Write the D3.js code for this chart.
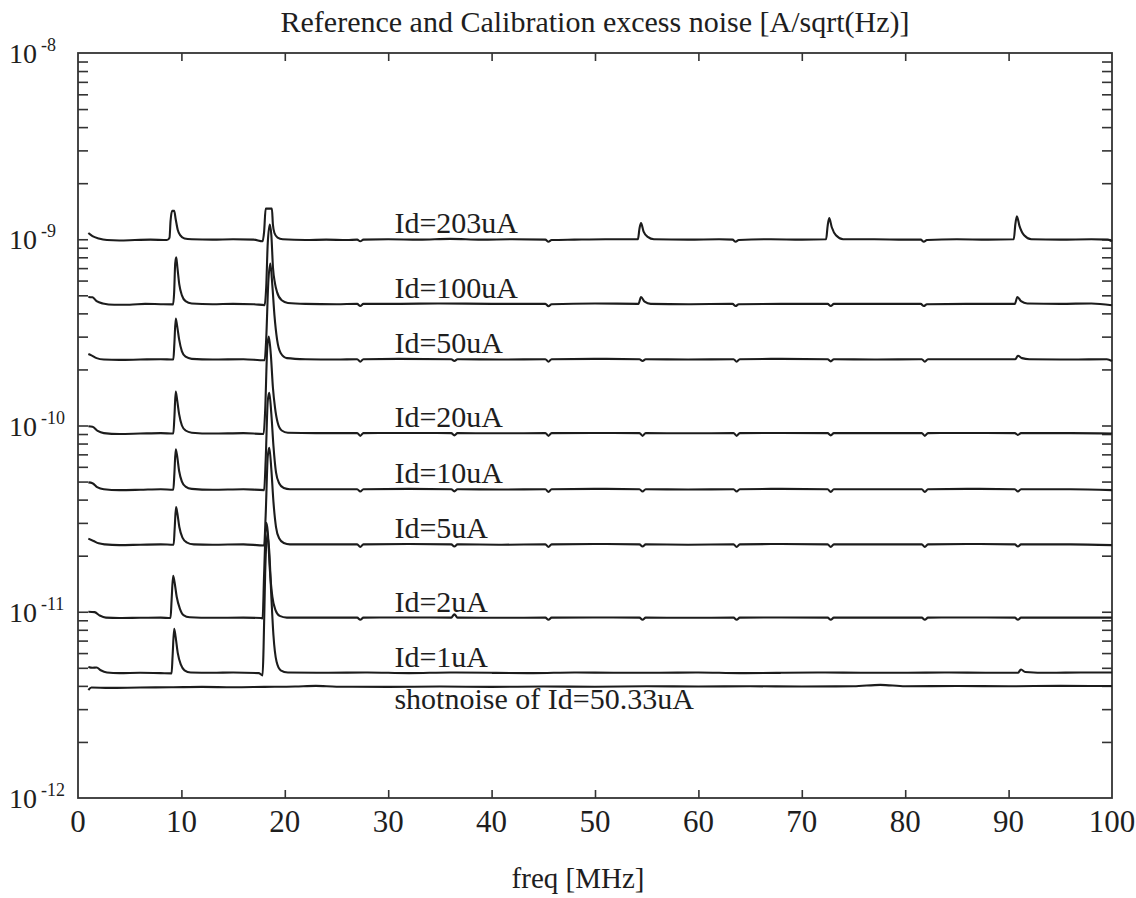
<!DOCTYPE html>
<html>
<head>
<meta charset="utf-8">
<script src="https://cdn.jsdelivr.net/npm/d3@7"></script>
<style>
body { margin: 0; background: #fff; }
text { font-family: "Liberation Serif", "Times New Roman", serif; fill: #1e1e1e; }
</style>
</head>
<body>
<div id="chart"></div>
<script>
// x axis ticks [MHz] and y axis decades (exponents)
var xTickValues = [0, 10, 20, 30, 40, 50, 60, 70, 80, 90, 100];
var yDecades = [-8, -9, -10, -11, -12];

// curve labels and the noise floor each one sits on
var seriesNames = ["Id=203uA", "Id=100uA", "Id=50uA", "Id=20uA", "Id=10uA", "Id=5uA", "Id=2uA", "Id=1uA", "shotnoise of Id=50.33uA"];
var seriesLevels = [1.0e-9, 4.5e-10, 2.27e-10, 9.1e-11, 4.55e-11, 2.3e-11, 9.3e-12, 4.7e-12, 3.95e-12];

// spectra: [freq MHz, A/sqrt(Hz)]
var id203 = [[1.0,1.08e-9],[1.4,1.04e-9],[2.0,1.01e-9],[2.8,0.99e-9],[4,0.985e-9],[5.5,0.99e-9],[7,0.995e-9],[8.6,0.99e-9],[8.85,1.02e-9],[8.95,1.25e-9],[9.1,1.42e-9],[9.3,1.42e-9],[9.45,1.28e-9],[9.65,1.12e-9],[9.9,1.05e-9],[10.3,1.01e-9],[11,1.0e-9],[13,0.995e-9],[15,1.0e-9],[17,0.995e-9],[17.85,0.975e-9],[18.0,1.1e-9],[18.15,1.46e-9],[18.75,1.46e-9],[18.85,1.2e-9],[19.0,1.08e-9],[19.3,1.02e-9],[19.8,1.0e-9],[22,0.99e-9],[24,0.995e-9],[26,0.99e-9],[27.0,0.995e-9],[27.3,0.975e-9],[27.6,0.995e-9],[30,1.0e-9],[33,0.995e-9],[36,1.005e-9],[39,0.995e-9],[42,1.0e-9],[45.2,0.995e-9],[45.5,0.97e-9],[45.8,0.99e-9],[48,0.995e-9],[51,1.0e-9],[54.15,1.0e-9],[54.3,1.14e-9],[54.45,1.22e-9],[54.7,1.1e-9],[55.1,1.03e-9],[55.7,1.0e-9],[59,0.995e-9],[62,1.0e-9],[63.3,0.995e-9],[63.6,0.97e-9],[63.9,0.99e-9],[67,1.0e-9],[70,0.995e-9],[72.35,1.0e-9],[72.5,1.18e-9],[72.65,1.3e-9],[72.9,1.16e-9],[73.3,1.05e-9],[74,1.0e-9],[77,1.0e-9],[80,0.995e-9],[81.5,0.995e-9],[81.8,0.97e-9],[82.1,0.99e-9],[85,1.0e-9],[88,0.995e-9],[90.5,1.0e-9],[90.65,1.2e-9],[90.8,1.33e-9],[91.05,1.18e-9],[91.5,1.05e-9],[92.2,1.0e-9],[95,0.995e-9],[98,1.0e-9],[99.6,0.995e-9],[100,0.975e-9]];

var id100 = [[1.0,4.9e-10],[1.4,4.88e-10],[1.8,4.65e-10],[2.4,4.52e-10],[3.5,4.45e-10],[5,4.45e-10],[6.5,4.5e-10],[8,4.48e-10],[9.2,4.47e-10],[9.3,5.2e-10],[9.4,7.4e-10],[9.5,8.0e-10],[9.62,7.0e-10],[9.8,5.7e-10],[10.05,5.0e-10],[10.4,4.65e-10],[11,4.52e-10],[13,4.48e-10],[15,4.5e-10],[17,4.48e-10],[18.05,4.43e-10],[18.2,5.5e-10],[18.35,9.5e-10],[18.55,1.2e-9],[18.7,1.05e-9],[18.86,7.0e-10],[19.05,5.8e-10],[19.25,5.2e-10],[19.7,4.7e-10],[20.3,4.55e-10],[22,4.5e-10],[25,4.48e-10],[27.0,4.5e-10],[27.3,4.38e-10],[27.6,4.5e-10],[31,4.5e-10],[35,4.52e-10],[40,4.5e-10],[45.2,4.5e-10],[45.5,4.37e-10],[45.8,4.48e-10],[50,4.52e-10],[54.2,4.5e-10],[54.45,4.9e-10],[54.8,4.62e-10],[55.4,4.5e-10],[59,4.48e-10],[63.3,4.5e-10],[63.6,4.38e-10],[63.9,4.48e-10],[68,4.5e-10],[72.5,4.5e-10],[72.8,4.38e-10],[73.1,4.5e-10],[77,4.5e-10],[81.5,4.5e-10],[81.8,4.38e-10],[82.1,4.48e-10],[86,4.5e-10],[90.6,4.5e-10],[90.85,4.9e-10],[91.2,4.65e-10],[91.8,4.52e-10],[95,4.5e-10],[98,4.52e-10],[100,4.42e-10]];

var id50 = [[1.0,2.42e-10],[1.3,2.38e-10],[1.8,2.3e-10],[2.5,2.26e-10],[4,2.25e-10],[6,2.26e-10],[8,2.27e-10],[9.22,2.26e-10],[9.32,2.75e-10],[9.45,3.75e-10],[9.58,3.45e-10],[9.78,2.9e-10],[10.05,2.5e-10],[10.4,2.34e-10],[11,2.28e-10],[13,2.26e-10],[16,2.27e-10],[18.05,2.24e-10],[18.2,2.9e-10],[18.4,5.8e-10],[18.6,7.4e-10],[18.8,5.6e-10],[19.0,3.9e-10],[19.25,2.9e-10],[19.6,2.45e-10],[20.2,2.3e-10],[22,2.27e-10],[25,2.26e-10],[27.0,2.27e-10],[27.3,2.2e-10],[27.6,2.27e-10],[31,2.28e-10],[36.1,2.27e-10],[36.4,2.22e-10],[36.7,2.27e-10],[41,2.26e-10],[45.2,2.27e-10],[45.5,2.2e-10],[45.8,2.27e-10],[50,2.28e-10],[54.3,2.27e-10],[54.6,2.22e-10],[54.9,2.27e-10],[59,2.26e-10],[63.4,2.27e-10],[63.7,2.2e-10],[64,2.27e-10],[68,2.28e-10],[72.5,2.27e-10],[72.8,2.21e-10],[73.1,2.27e-10],[77,2.26e-10],[81.6,2.27e-10],[81.9,2.2e-10],[82.2,2.27e-10],[86,2.27e-10],[90.65,2.27e-10],[90.9,2.37e-10],[91.3,2.3e-10],[92,2.27e-10],[96,2.26e-10],[99.5,2.27e-10],[100,2.22e-10]];

var id20 = [[1.0,9.9e-11],[1.4,9.85e-11],[1.9,9.35e-11],[2.5,9.1e-11],[4,9.0e-11],[6,9.05e-11],[8,9.1e-11],[9.22,9.05e-11],[9.32,1.1e-10],[9.45,1.52e-10],[9.58,1.38e-10],[9.78,1.15e-10],[10.05,1.0e-10],[10.4,9.4e-11],[11,9.15e-11],[13,9.05e-11],[16,9.1e-11],[17.95,9.0e-11],[18.1,1.2e-10],[18.3,2.6e-10],[18.45,3.0e-10],[18.65,2.4e-10],[18.85,1.6e-10],[19.05,1.25e-10],[19.3,1.04e-10],[19.7,9.4e-11],[20.3,9.15e-11],[23,9.1e-11],[27.0,9.1e-11],[27.3,8.8e-11],[27.6,9.1e-11],[32,9.12e-11],[36.1,9.1e-11],[36.4,8.85e-11],[36.7,9.1e-11],[41,9.08e-11],[45.2,9.1e-11],[45.5,8.8e-11],[45.8,9.1e-11],[50,9.12e-11],[54.3,9.1e-11],[54.6,8.8e-11],[54.9,9.1e-11],[59,9.08e-11],[63.4,9.1e-11],[63.7,8.8e-11],[64,9.1e-11],[68,9.12e-11],[72.5,9.1e-11],[72.8,8.85e-11],[73.1,9.1e-11],[77,9.1e-11],[81.6,9.1e-11],[81.9,8.8e-11],[82.2,9.1e-11],[86,9.12e-11],[90.6,9.1e-11],[90.9,8.9e-11],[91.2,9.1e-11],[96,9.1e-11],[100,9.05e-11]];

var id10 = [[1.0,4.95e-11],[1.4,4.9e-11],[1.9,4.65e-11],[2.5,4.55e-11],[4,4.5e-11],[6,4.52e-11],[8,4.55e-11],[9.22,4.52e-11],[9.32,5.5e-11],[9.45,7.45e-11],[9.58,6.9e-11],[9.78,5.7e-11],[10.05,5.0e-11],[10.4,4.7e-11],[11,4.57e-11],[13,4.52e-11],[16,4.55e-11],[18.0,4.5e-11],[18.15,6.5e-11],[18.35,1.35e-10],[18.5,1.5e-10],[18.7,1.15e-10],[18.9,7.8e-11],[19.15,5.6e-11],[19.45,4.9e-11],[19.9,4.62e-11],[20.5,4.55e-11],[27.0,4.55e-11],[27.3,4.42e-11],[27.6,4.55e-11],[32,4.57e-11],[36.1,4.55e-11],[36.4,4.43e-11],[36.7,4.55e-11],[41,4.53e-11],[45.2,4.55e-11],[45.5,4.4e-11],[45.8,4.55e-11],[50,4.57e-11],[54.3,4.55e-11],[54.6,4.42e-11],[54.9,4.55e-11],[59,4.53e-11],[63.4,4.55e-11],[63.7,4.42e-11],[64,4.55e-11],[68,4.57e-11],[72.5,4.55e-11],[72.8,4.4e-11],[73.1,4.55e-11],[77,4.55e-11],[81.6,4.55e-11],[81.9,4.4e-11],[82.2,4.55e-11],[86,4.57e-11],[90.6,4.55e-11],[90.9,4.42e-11],[91.2,4.55e-11],[96,4.55e-11],[100,4.5e-11]];

var id5 = [[1.0,2.47e-11],[1.5,2.4e-11],[2.0,2.33e-11],[2.6,2.3e-11],[4,2.28e-11],[6,2.29e-11],[8,2.3e-11],[9.25,2.29e-11],[9.35,2.8e-11],[9.48,3.65e-11],[9.6,3.4e-11],[9.8,2.85e-11],[10.1,2.5e-11],[10.5,2.36e-11],[11.2,2.3e-11],[13,2.29e-11],[16,2.3e-11],[18.0,2.27e-11],[18.15,3.3e-11],[18.35,6.8e-11],[18.5,7.6e-11],[18.7,5.8e-11],[18.9,3.9e-11],[19.15,2.85e-11],[19.45,2.48e-11],[19.9,2.34e-11],[20.5,2.3e-11],[27.0,2.3e-11],[27.3,2.23e-11],[27.6,2.3e-11],[32,2.31e-11],[36.1,2.3e-11],[36.4,2.24e-11],[36.7,2.3e-11],[41,2.29e-11],[45.2,2.3e-11],[45.5,2.23e-11],[45.8,2.3e-11],[50,2.31e-11],[54.3,2.3e-11],[54.6,2.24e-11],[54.9,2.3e-11],[59,2.29e-11],[63.4,2.3e-11],[63.7,2.23e-11],[64,2.3e-11],[68,2.31e-11],[72.5,2.3e-11],[72.8,2.23e-11],[73.1,2.3e-11],[77,2.3e-11],[81.6,2.3e-11],[81.9,2.23e-11],[82.2,2.3e-11],[86,2.31e-11],[90.6,2.3e-11],[90.9,2.24e-11],[91.2,2.3e-11],[96,2.3e-11],[100,2.28e-11]];

var id2 = [[1.0,1.0e-11],[1.6,9.95e-12],[2.1,9.55e-12],[2.7,9.3e-12],[4,9.25e-12],[6,9.28e-12],[8,9.3e-12],[8.95,9.25e-12],[9.05,1.15e-11],[9.2,1.56e-11],[9.33,1.45e-11],[9.55,1.2e-11],[9.85,1.04e-11],[10.2,9.6e-12],[10.8,9.35e-12],[13,9.28e-12],[16,9.3e-12],[17.7,9.25e-12],[17.85,9.2e-12],[18.0,1.6e-11],[18.2,3.0e-11],[18.35,2.7e-11],[18.55,1.7e-11],[18.8,1.2e-11],[19.1,1.02e-11],[19.5,9.5e-12],[20.2,9.3e-12],[23,9.3e-12],[27.0,9.3e-12],[27.3,9.05e-12],[27.6,9.3e-12],[32,9.32e-12],[36.1,9.3e-12],[36.4,9.7e-12],[36.7,9.3e-12],[41,9.28e-12],[45.2,9.3e-12],[45.5,9.05e-12],[45.8,9.3e-12],[50,9.32e-12],[54.3,9.3e-12],[54.6,9.05e-12],[54.9,9.3e-12],[59,9.28e-12],[63.4,9.3e-12],[63.7,9.05e-12],[64,9.3e-12],[68,9.32e-12],[72.5,9.3e-12],[72.8,9.05e-12],[73.1,9.3e-12],[77,9.3e-12],[81.6,9.3e-12],[81.9,9.05e-12],[82.2,9.3e-12],[86,9.32e-12],[90.6,9.3e-12],[90.9,9.05e-12],[91.2,9.3e-12],[96,9.3e-12],[100,9.3e-12]];

var id1 = [[1.0,5.05e-12],[1.4,5.0e-12],[1.8,5.02e-12],[2.2,4.85e-12],[2.8,4.72e-12],[4,4.68e-12],[6,4.7e-12],[8,4.68e-12],[9.05,4.67e-12],[9.15,5.8e-12],[9.3,8.1e-12],[9.43,7.4e-12],[9.65,6.0e-12],[9.95,5.2e-12],[10.3,4.85e-12],[10.9,4.72e-12],[13,4.7e-12],[15,4.72e-12],[17.5,4.68e-12],[17.85,4.55e-12],[17.95,6.5e-12],[18.1,1.6e-11],[18.3,2.6e-11],[18.5,2.1e-11],[18.7,1.2e-11],[18.9,7.5e-12],[19.2,5.4e-12],[19.6,4.85e-12],[20.3,4.72e-12],[24,4.7e-12],[28,4.72e-12],[32,4.68e-12],[36,4.72e-12],[40,4.7e-12],[44,4.68e-12],[48,4.72e-12],[52,4.7e-12],[56,4.7e-12],[60,4.72e-12],[64,4.68e-12],[68,4.7e-12],[72,4.72e-12],[76,4.7e-12],[80,4.7e-12],[84,4.72e-12],[88,4.7e-12],[90.9,4.7e-12],[91.2,4.9e-12],[91.6,4.75e-12],[94,4.7e-12],[97,4.72e-12],[100,4.72e-12]];

var shot = [[1.0,3.8e-12],[1.3,3.92e-12],[3,3.9e-12],[6,3.92e-12],[9,3.93e-12],[12,3.95e-12],[15,3.93e-12],[18,3.95e-12],[21,3.97e-12],[23,4.0e-12],[25,3.96e-12],[30,3.95e-12],[35,3.97e-12],[40,3.95e-12],[45,3.97e-12],[50,3.96e-12],[55,3.98e-12],[60,3.97e-12],[65,3.98e-12],[70,3.97e-12],[75,3.98e-12],[77.6,4.05e-12],[80,3.98e-12],[85,3.99e-12],[90,3.98e-12],[95,4.0e-12],[100,3.99e-12]];

var allSeries = [id203, id100, id50, id20, id10, id5, id2, id1, shot];

window.onload = function() {
    var fullWidth = 1136;
    var fullHeight = 898;
    var margin = { "top" : 53, "right" : 24, "bottom" : 100, "left" : 78 };
    var width = fullWidth - margin.left - margin.right;
    var height = fullHeight - margin.top - margin.bottom;

    var svg = d3.select("#chart").append("svg").attr("width", fullWidth).attr("height", fullHeight);
    var g = svg.append("g").attr("transform", "translate(" + margin.left + "," + margin.top + ")");

    var x = d3.scaleLinear().domain([0, 100]).range([0, width]);
    var y = d3.scaleLog().domain([1e-12, 1e-8]).range([height, 0]);

    // inward ticks, no labels from the axis itself
    var innerX = xTickValues.slice(1, -1);
    g.append("g").attr("transform", "translate(0," + height + ")")
        .call(d3.axisBottom(x).tickValues(innerX).tickSize(-8).tickFormat(""));
    g.append("g").call(d3.axisTop(x).tickValues(innerX).tickSize(-8).tickFormat(""));

    var yTicks = y.ticks().filter(function(d) { return d > 1e-12 && d < 1e-8; });
    g.append("g").call(d3.axisLeft(y).tickValues(yTicks).tickSize(-10).tickFormat(""));
    g.append("g").attr("transform", "translate(" + width + ",0)")
        .call(d3.axisRight(y).tickValues(yTicks).tickSize(-10).tickFormat(""));

    g.selectAll(".domain").remove();
    g.selectAll(".tick line").attr("stroke", "#333").attr("stroke-width", 1.6);

    // frame
    g.append("rect").attr("x", 0).attr("y", 0).attr("width", width).attr("height", height)
        .attr("fill", "none").attr("stroke", "#333").attr("stroke-width", 1.8);

    // curves
    var line = d3.line()
        .x(function(d) { return x(d[0]); })
        .y(function(d) { return y(d[1]); })
        .curve(d3.curveMonotoneX);

    g.selectAll(".spectrum").data(allSeries).enter().append("path")
        .attr("class", "spectrum")
        .attr("d", line)
        .attr("fill", "none")
        .attr("stroke", "#1c1c1c")
        .attr("stroke-width", 2.1)
        .attr("stroke-linejoin", "round");

    // curve labels
    g.selectAll(".curveLabel").data(seriesNames).enter().append("text")
        .attr("class", "curveLabel")
        .attr("x", x(30.6))
        .attr("y", function(d, i) {
            var base = y(seriesLevels[i]);
            return (i == seriesNames.length - 1) ? base + 22 : base - 6;
        })
        .style("font-size", "30px")
        .text(function(d) { return d; });

    // x tick labels
    svg.selectAll(".xLabel").data(xTickValues).enter().append("text")
        .attr("class", "xLabel")
        .attr("x", function(d) { return margin.left + x(d); })
        .attr("y", 832)
        .attr("text-anchor", "middle")
        .style("font-size", "31px")
        .text(function(d) { return d; });

    // y tick labels 10^n
    var yl = svg.selectAll(".yLabel").data(yDecades).enter().append("text")
        .attr("class", "yLabel")
        .attr("x", 9)
        .attr("y", function(d) { return margin.top + y(Math.pow(10, d)) + 10; })
        .style("font-size", "28px");
    yl.append("tspan").text("10");
    yl.append("tspan").attr("dx", 4).attr("dy", -12).style("font-size", "18px")
        .text(function(d) { return d; });

    // titles
    svg.append("text").attr("x", 595).attr("y", 32).attr("text-anchor", "middle")
        .style("font-size", "30px").text("Reference and Calibration excess noise [A/sqrt(Hz)]");
    svg.append("text").attr("x", 578).attr("y", 888).attr("text-anchor", "middle")
        .style("font-size", "29px").text("freq [MHz]");
};
</script>
</body>
</html>
